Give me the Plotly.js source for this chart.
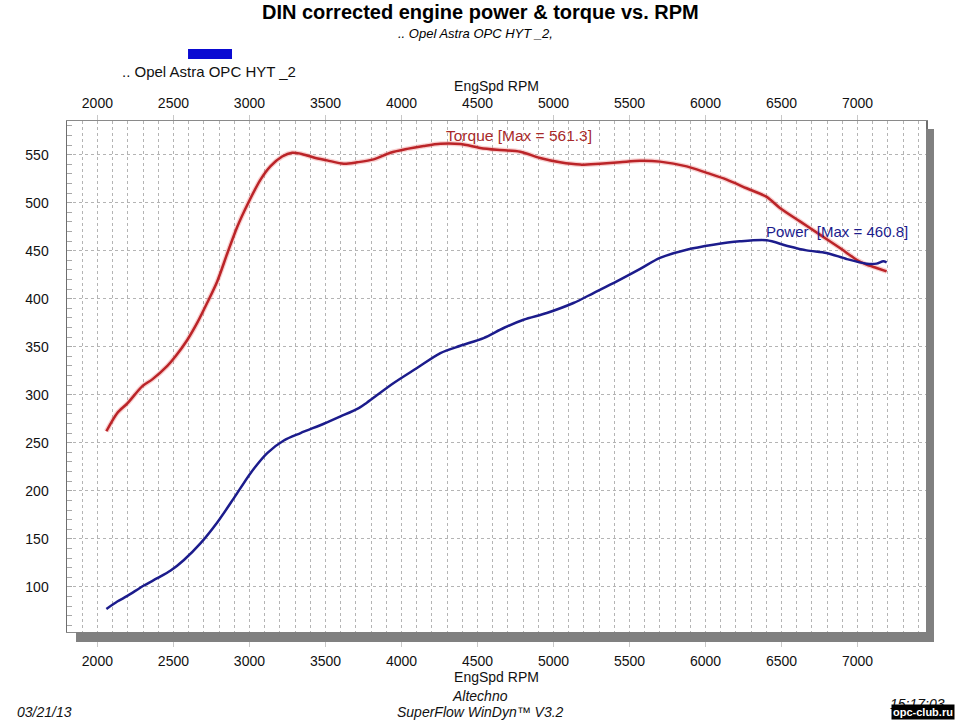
<!DOCTYPE html>
<html>
<head>
<meta charset="utf-8">
<script src="https://cdn.plot.ly/plotly-3.0.1.min.js"></script>
<style>
html,body{margin:0;padding:0;background:#fff;}
#chart{width:960px;height:720px;}
</style>
</head>
<body>
<div id="chart"></div>
<script>
// Torque curve (EngSpd RPM vs value)
var torqueRpm = [2059, 2131, 2197, 2296, 2361, 2460, 2514, 2591, 2657, 2723, 2788, 2854, 2920, 2996, 3073, 3139, 3215, 3281, 3336, 3423, 3511, 3620, 3708, 3817, 3927, 4037, 4146, 4256, 4387, 4518, 4628, 4781, 4912, 5043, 5175, 5306, 5437, 5568, 5700, 5876, 6008, 6139, 6270, 6402, 6489, 6621, 6752, 6884, 6993, 7059, 7125, 7191];
var torqueVal = [262, 281, 291, 309, 316, 330, 340, 357, 375, 396, 418, 447, 475, 501, 524, 538, 548, 552, 551, 547, 544, 540.5, 542, 545, 552, 556, 559, 561.3, 561, 557, 555, 553, 546.5, 542, 539.6, 540.6, 542, 543.5, 542.7, 537.8, 531, 524, 515, 506, 494.5, 480.5, 466.7, 452.8, 440.6, 435.4, 432, 428.5];

// Power curve
var powerRpm = [2059, 2131, 2197, 2306, 2394, 2482, 2569, 2679, 2788, 2898, 3007, 3117, 3226, 3336, 3489, 3599, 3719, 3774, 3949, 4102, 4256, 4387, 4540, 4672, 4803, 4956, 5131, 5263, 5416, 5570, 5700, 5876, 6051, 6226, 6402, 6533, 6665, 6796, 6927, 7059, 7125, 7169, 7191];
var powerVal = [77, 84.7, 90.6, 101.4, 109, 117, 128, 145.5, 167, 192.4, 218.4, 239.3, 252.4, 260.1, 269.8, 277.4, 286.1, 292, 312.2, 327.8, 343.4, 351, 359, 369.5, 378.1, 385.1, 395.5, 405.9, 418, 431, 442.4, 451, 456.2, 459.7, 460.8, 455.2, 450.3, 447.6, 441.4, 436.5, 436.5, 438.9, 437.9];

var xTickVals = [2000, 2500, 3000, 3500, 4000, 4500, 5000, 5500, 6000, 6500, 7000];
var yTickVals = [100, 150, 200, 250, 300, 350, 400, 450, 500, 550];

var titleText = "DIN corrected engine power & torque vs. RPM";
var subtitleText = ".. Opel Astra OPC HYT _2,";
var legendText = ".. Opel Astra OPC HYT _2";
var axisTitle = "EngSpd RPM";
var torqueLabel = "Torque [Max = 561.3]";
var powerLabel = "Power  [Max = 460.8]";

var FONT = "Liberation Sans, Arial, Helvetica, sans-serif";
var xRange = [1800, 7450];
var yRange = [53, 585];

var traces = [
  {x: torqueRpm, y: torqueVal, xaxis: 'x', yaxis: 'y', mode: 'lines', hoverinfo: 'skip',
   line: {color: 'rgba(235,120,120,0.35)', width: 5, shape: 'spline', smoothing: 0.8}},
  {x: torqueRpm, y: torqueVal, xaxis: 'x', yaxis: 'y', mode: 'lines', name: 'Torque',
   line: {color: '#bb2428', width: 2.5, shape: 'spline', smoothing: 0.8}},
  {x: powerRpm, y: powerVal, xaxis: 'x2', yaxis: 'y', mode: 'lines', name: 'Power',
   line: {color: '#1c1c8c', width: 2.5, shape: 'spline', smoothing: 0.8}}
];

var gridCol = '#b4b4b4';
var axisFont = {family: FONT, size: 14, color: '#111'};

var layout = {
  width: 960, height: 720,
  margin: {l: 67, r: 34, t: 121, b: 88, pad: 0},
  paper_bgcolor: '#ffffff', plot_bgcolor: '#ffffff',
  showlegend: false,
  font: {family: FONT, color: '#111'},
  xaxis: {
    range: xRange, tickvals: xTickVals, ticktext: xTickVals.map(String),
    tickfont: axisFont, showline: true, linecolor: '#8a8a8a', linewidth: 1,
    showgrid: true, gridcolor: gridCol, griddash: 'dot', gridwidth: 1,
    ticks: 'outside', ticklen: 14, tickcolor: '#c8c8c8', tickwidth: 1,
    ticklabelstandoff: 2,
    minor: {dtick: 100, tick0: 0, showgrid: true, gridcolor: gridCol, griddash: 'dot', gridwidth: 1, ticks: ''},
    zeroline: false,
    title: {text: axisTitle, font: {family: FONT, size: 14, color: '#111'}, standoff: 0}
  },
  xaxis2: {
    overlaying: 'x', side: 'top', anchor: 'y',
    range: xRange, tickvals: xTickVals, ticktext: xTickVals.map(String),
    tickfont: axisFont, showline: true, linecolor: '#8a8a8a', linewidth: 1,
    showgrid: false, zeroline: false,
    ticks: 'outside', ticklen: 5, tickcolor: '#c8c8c8', tickwidth: 1,
    ticklabelstandoff: 1,
    title: {text: axisTitle, font: {family: FONT, size: 14, color: '#111'}, standoff: 0}
  },
  yaxis: {
    range: yRange, tickvals: yTickVals, ticktext: yTickVals.map(String),
    tickfont: axisFont, showline: true, linecolor: '#6e6e6e', linewidth: 1.5, mirror: true,
    showgrid: true, gridcolor: gridCol, griddash: 'dot', gridwidth: 1,
    ticks: '', ticklabelstandoff: 14, zeroline: false,
    minor: {dtick: 10, tick0: 0, ticks: 'inside', ticklen: 5, tickcolor: '#a8a8a8', showgrid: false}
  },
  shapes: [
    // drop shadow below and right of plot
    {type: 'rect', xref: 'paper', yref: 'paper', x0: 0.0105, x1: 1.0093, y0: -0.0196, y1: 0,
     fillcolor: '#808080', line: {width: 0}, layer: 'above'},
    {type: 'rect', xref: 'paper', yref: 'paper', x0: 1.0, x1: 1.0093, y0: -0.0196, y1: 0.9843,
     fillcolor: '#808080', line: {width: 0}, layer: 'above'},
    // legend swatch
    {type: 'rect', xref: 'paper', yref: 'paper', x0: 0.1409, x1: 0.1921, y0: 1.1213, y1: 1.1409,
     fillcolor: '#0a0ad2', line: {width: 0}}
  ],
  annotations: [
    {text: '<b>' + titleText + '</b>', xref: 'paper', yref: 'paper', x: 0.4808, y: 1.2134,
     xanchor: 'center', yanchor: 'middle', showarrow: false, font: {family: FONT, size: 20, color: '#000'}},
    {text: '<i>' + subtitleText + '</i>', xref: 'paper', yref: 'paper', x: 0.4761, y: 1.1722,
     xanchor: 'center', yanchor: 'middle', showarrow: false, font: {family: FONT, size: 13, color: '#000'}},
    {text: legendText, xref: 'paper', yref: 'paper', x: 0.1653, y: 1.0959,
     xanchor: 'center', yanchor: 'middle', showarrow: false, font: {family: FONT, size: 15, color: '#111'}},
    {text: torqueLabel, xref: 'paper', yref: 'paper', x: 0.5262, y: 0.9726,
     xanchor: 'center', yanchor: 'middle', showarrow: false, font: {family: FONT, size: 15.5, color: '#a82a2a'}},
    {text: powerLabel, xref: 'paper', yref: 'paper', x: 0.8964, y: 0.7828,
     xanchor: 'center', yanchor: 'middle', showarrow: false, font: {family: FONT, size: 15, color: '#1c1c8c'}},
    {text: '<i>Altechno</i>', xref: 'paper', yref: 'paper', x: 0.4808, y: -0.1252,
     xanchor: 'center', yanchor: 'middle', showarrow: false, font: {family: FONT, size: 14, color: '#111'}},
    {text: '<i>SuperFlow WinDyn™ V3.2</i>', xref: 'paper', yref: 'paper', x: 0.4808, y: -0.1566,
     xanchor: 'center', yanchor: 'middle', showarrow: false, font: {family: FONT, size: 14, color: '#111'}},
    {text: '<i>03/21/13</i>', xref: 'paper', yref: 'paper', x: -0.0605, y: -0.1566,
     xanchor: 'left', yanchor: 'middle', showarrow: false, font: {family: FONT, size: 14, color: '#111'}},
    {text: '<i>15:17:03</i>', xref: 'paper', yref: 'paper', x: 0.9558, y: -0.1410,
     xanchor: 'left', yanchor: 'middle', showarrow: false, font: {family: FONT, size: 14, color: '#111'}},
    {text: '<b>opc-club.ru</b>', xref: 'paper', yref: 'paper', x: 1.0335, y: -0.1722,
     xanchor: 'right', yanchor: 'bottom', showarrow: false, bgcolor: '#000', borderpad: 1,
     font: {family: FONT, size: 11, color: '#fff'}}
  ]
};

Plotly.newPlot('chart', traces, layout, {staticPlot: true, displayModeBar: false});
</script>
</body>
</html>
